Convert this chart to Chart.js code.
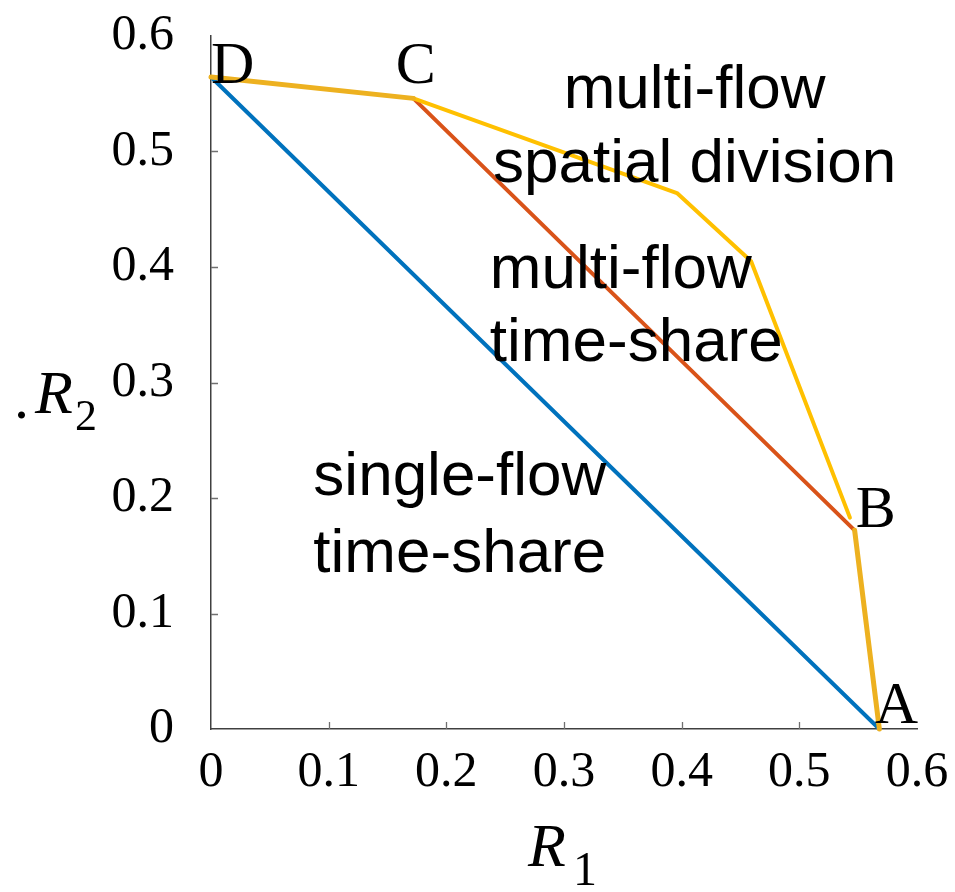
<!DOCTYPE html>
<html>
<head>
<meta charset="utf-8">
<script src="https://cdn.jsdelivr.net/npm/chart.js@4.4.0/dist/chart.umd.min.js"></script>
<style>
  html, body { margin: 0; padding: 0; background: #fff; }
  #wrap { width: 955px; height: 892px; }
</style>
</head>
<body>
<div id="wrap"><canvas id="myChart" width="955" height="892"></canvas></div>
<script>
// rate region corners (R1 on x, R2 on y)
var singleX = [0, 0.568];
var singleY = [0.5645, 0];
var multiX = [0.172, 0.547];
var multiY = [0.546, 0.172];
var spatialX = [0.172, 0.396, 0.459, 0.543];
var spatialY = [0.546, 0.464, 0.405, 0.183];
var topEdgeX = [0, 0.172];
var topEdgeY = [0.5645, 0.546];
var sideEdgeX = [0.547, 0.568];
var sideEdgeY = [0.172, 0];

var xTicks = [0, 0.1, 0.2, 0.3, 0.4, 0.5, 0.6];
var yTicks = [0, 0.1, 0.2, 0.3, 0.4, 0.5, 0.6];

function pts(xs, ys) {
  return xs.map(function (x, i) { return { x: x, y: ys[i] }; });
}

function line(xs, ys, color, width, order) {
  return {
    data: pts(xs, ys),
    showLine: true,
    borderColor: color,
    backgroundColor: color,
    borderWidth: width,
    borderJoinStyle: "round",
    borderCapStyle: "round",
    pointRadius: 0,
    pointHoverRadius: 0,
    clip: false,
    order: order,
  };
}

// text drawn inside the plot, anchored in data units
var labels = [
  { t: "D", x: 0.0, y: 0.559, font: '60px "Liberation Serif"', align: "left" },
  { t: "C", x: 0.157, y: 0.559, font: '60px "Liberation Serif"', align: "left" },
  { t: "B", x: 0.548, y: 0.175, font: '60px "Liberation Serif"', align: "left" },
  { t: "A", x: 0.564, y: 0.005, font: '60px "Liberation Serif"', align: "left" },
  { t: "multi-flow", x: 0.411, y: 0.538, font: '62px "Liberation Sans"', align: "center" },
  { t: "spatial division", x: 0.411, y: 0.474, font: '62px "Liberation Sans"', align: "center" },
  { t: "multi-flow", x: 0.237, y: 0.382, font: '62px "Liberation Sans"', align: "left" },
  { t: "time-share", x: 0.237, y: 0.319, font: '62px "Liberation Sans"', align: "left" },
  { t: "single-flow", x: 0.087, y: 0.203, font: '62px "Liberation Sans"', align: "left" },
  { t: "time-share", x: 0.087, y: 0.136, font: '62px "Liberation Sans"', align: "left" },
];

var plotText = {
  id: "plotText",
  afterDatasetsDraw: function (chart) {
    var ctx = chart.ctx, sx = chart.scales.x, sy = chart.scales.y;
    ctx.save();
    ctx.fillStyle = "#000";
    ctx.textBaseline = "alphabetic";
    labels.forEach(function (l) {
      ctx.font = l.font;
      ctx.textAlign = l.align;
      ctx.fillText(l.t, sx.getPixelForValue(l.x), sy.getPixelForValue(l.y));
    });
    ctx.restore();
  },
  afterDraw: function (chart) {
    var ctx = chart.ctx, sx = chart.scales.x, sy = chart.scales.y;
    ctx.save();
    // inward tick marks
    ctx.strokeStyle = "#707070";
    ctx.lineWidth = 1.3;
    ctx.beginPath();
    xTicks.forEach(function (v) {
      if (v > 0 && v < 0.6) {
        var px = Math.round(sx.getPixelForValue(v)) + 0.5;
        ctx.moveTo(px, sy.bottom);
        ctx.lineTo(px, sy.bottom - 7);
      }
    });
    yTicks.forEach(function (v) {
      if (v > 0 && v < 0.6) {
        var py = Math.round(sy.getPixelForValue(v)) + 0.5;
        ctx.moveTo(sx.left, py);
        ctx.lineTo(sx.left + 7, py);
      }
    });
    ctx.stroke();

    // axis titles
    ctx.fillStyle = "#000";
    ctx.textAlign = "left";
    ctx.textBaseline = "alphabetic";
    ctx.font = 'italic 62px "Liberation Serif"';
    ctx.fillText("R", 528, 866);
    ctx.font = '48px "Liberation Serif"';
    ctx.fillText("1", 573, 885);

    ctx.font = '60px "Liberation Serif"';
    ctx.fillText(".", 14, 418);
    ctx.font = 'italic 62px "Liberation Serif"';
    ctx.fillText("R", 35, 413);
    ctx.font = '44px "Liberation Serif"';
    ctx.fillText("2", 75, 430);
    ctx.restore();
  },
};

var ctx = document.getElementById("myChart").getContext("2d");

var myChart = new Chart(ctx, {
  type: "scatter",
  data: {
    datasets: [
      line(topEdgeX, topEdgeY, "#EDB120", 5, 1),
      line(sideEdgeX, sideEdgeY, "#EDB120", 5, 1),
      line(spatialX, spatialY, "#FFC000", 4, 2),
      line(multiX, multiY, "#D95319", 4, 3),
      line(singleX, singleY, "#0072BD", 4, 4),
    ],
  },
  options: {
    responsive: false,
    animation: false,
    devicePixelRatio: 1,
    layout: { padding: { top: 36, right: 38, left: 0, bottom: 0 } },
    plugins: {
      legend: { display: false },
      tooltip: { enabled: false },
    },
    scales: {
      x: {
        type: "linear",
        min: 0,
        max: 0.6,
        afterBuildTicks: function (scale) {
          scale.ticks = xTicks.map(function (v) { return { value: v }; });
        },
        afterFit: function (scale) {
          scale.height = 163;
          scale.paddingLeft = 0;
          scale.paddingRight = 0;
        },
        grid: { display: true, drawOnChartArea: false, drawTicks: false, color: "rgba(0,0,0,0)" },
        border: { display: true, color: "#404040", width: 1.5 },
        ticks: {
          padding: 14,
          color: "#000",
          maxRotation: 0,
          font: { family: "Liberation Serif", size: 50 },
          callback: function (v) { return String(+v.toFixed(1)); },
        },
      },
      y: {
        type: "linear",
        min: 0,
        max: 0.6,
        afterBuildTicks: function (scale) {
          scale.ticks = yTicks.map(function (v) { return { value: v }; });
        },
        afterFit: function (scale) {
          scale.width = 211;
          scale.paddingTop = 0;
          scale.paddingBottom = 0;
        },
        grid: { display: true, drawOnChartArea: false, drawTicks: false, color: "rgba(0,0,0,0)" },
        border: { display: true, color: "#404040", width: 1.5 },
        ticks: {
          padding: 37,
          color: "#000",
          font: { family: "Liberation Serif", size: 50 },
          callback: function (v) { return String(+v.toFixed(1)); },
        },
      },
    },
  },
  plugins: [plotText],
});
</script>
</body>
</html>
